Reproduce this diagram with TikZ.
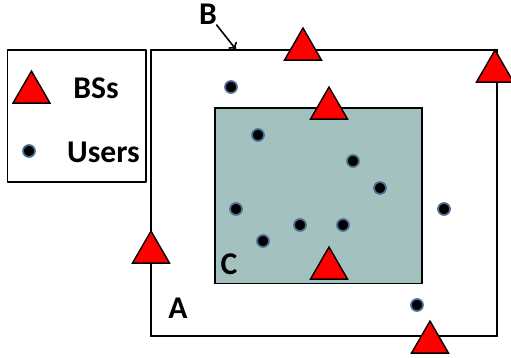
\documentclass[tikz,border=0pt]{standalone}
\usepackage{fontspec}
\setmainfont{Carlito}
\usetikzlibrary{shapes.geometric,arrows.meta}
\definecolor{cellfill}{HTML}{A3C1BF}
\definecolor{userring}{HTML}{4F6F94}
\tikzset{
  bs/.style={regular polygon,regular polygon sides=3,minimum size=0.854cm,inner sep=0pt,
    draw=black,fill=red,line width=0.8pt,line join=miter},
  user/.style={circle,minimum size=0.24cm,inner sep=0pt,draw=userring,fill=black,line width=1pt},
  lbl/.style={inner sep=0pt,font=\fontsize{18}{18}\selectfont\bfseries}
}

\begin{document}
\begin{tikzpicture}[x=0.02cm,y=-0.02cm]
\useasboundingbox (0,0) rectangle (511,358);
\draw[line width=1pt,line join=round] (7.5,50) rectangle (146,182);
\draw[line width=1pt] (151,50) rectangle (497,336);
\draw[line width=1pt,fill=cellfill] (215,108) rectangle (422,283.5);
% base stations
\foreach \n/\x/\y in {legend/31.5/92.4,top/303/49.4,right/495/71.4,inner/329/108.4,left/151/252.4,low/329/268.4,bottom/430/342.4} {
  \node[bs] (bs\n) at (\x,\y) {};
}
% users
\foreach \n/\x/\y in {legend/29/151,a/231/87,b/258/135,c/353/161,d/380/188,e/236/209,f/263/241,g/300/225,h/343/225,i/444/209,j/417/305} {
  \node[user] (user\n) at (\x,\y) {};
}
\node[lbl] (bss) at (96,88) {BSs};
\node[lbl] (users) at (103.5,152) {Users};
\node[lbl] (labelB) at (208,14) {B};
\node[lbl] (labelC) at (229,264) {C};
\node[lbl] (labelA) at (178,308) {A};
\coordinate (edge) at (236,49.5);
\draw[-{To[length=3.5pt,width=6pt]},line width=0.9pt] (labelB) -- (edge);
\end{tikzpicture}
\end{document}
